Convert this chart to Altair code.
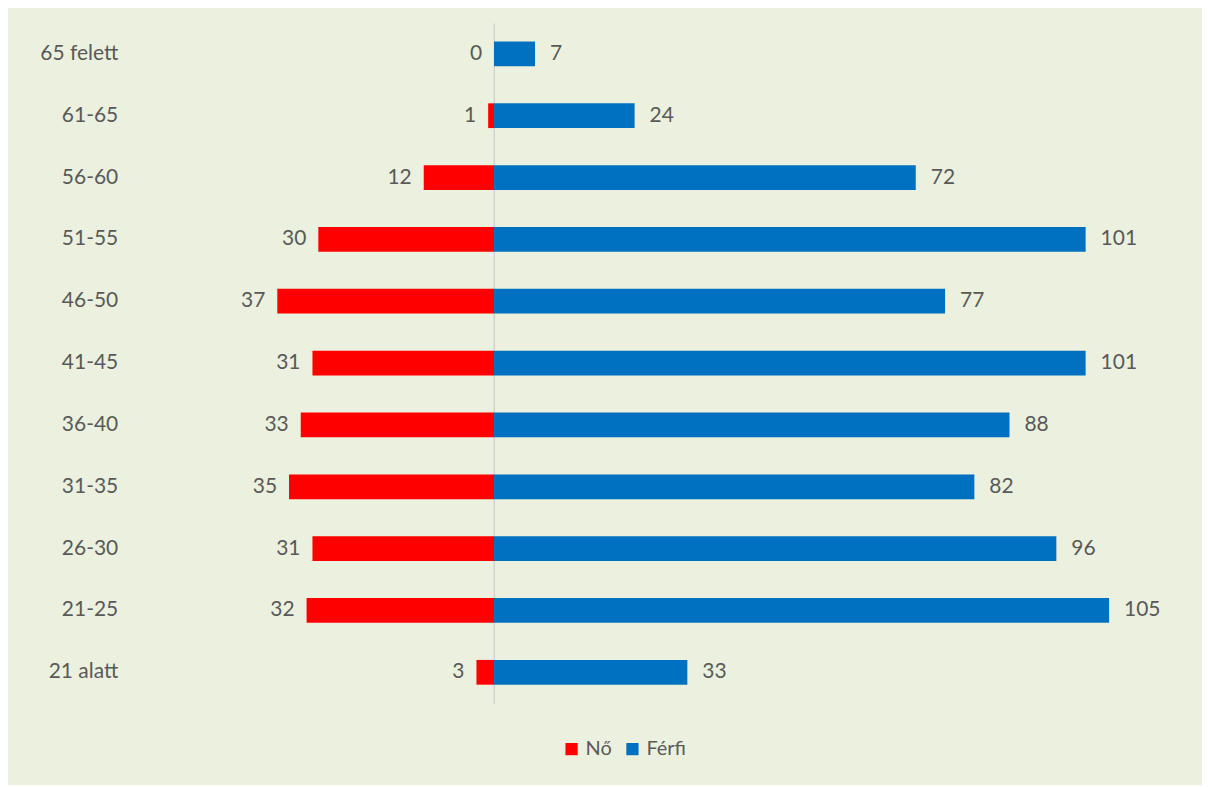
import altair as alt
import pandas as pd

categories = ["65 felett", "61-65", "56-60", "51-55", "46-50", "41-45",
              "36-40", "31-35", "26-30", "21-25", "21 alatt"]
no_values = [0, 1, 12, 30, 37, 31, 33, 35, 31, 32, 3]
ferfi_values = [7, 24, 72, 101, 77, 101, 88, 82, 96, 105, 33]
series = ["Nő", "Férfi"]
colors = ["#FF0000", "#0070C0"]

rows = []
for c, n, f in zip(categories, no_values, ferfi_values):
    rows.append({"cat": c, "nem": "Nő", "v": -n, "label": str(n), "side": -1})
    rows.append({"cat": c, "nem": "Férfi", "v": f, "label": str(f), "side": 1})
df = pd.DataFrame(rows)

FONT = "Lato"
GRAY = "#595959"
FS = 21

base = alt.Chart(df)

y_enc = alt.Y("cat:N", sort=categories, title=None,
              scale=alt.Scale(paddingInner=0.6, paddingOuter=0.3),
              axis=alt.Axis(domain=False, ticks=False, labelPadding=12,
                            labelFontSize=FS, labelColor=GRAY, labelFont=FONT))
x_enc = alt.X("v:Q", scale=alt.Scale(domain=[-62.2, 117.8], nice=False), title=None,
              axis=alt.Axis(values=[0], grid=True, gridColor="#C9CDD2", gridWidth=1.2,
                            labels=False, ticks=False, domain=False))

bars = base.mark_bar().encode(
    x=x_enc,
    y=y_enc,
    color=alt.Color("nem:N", scale=alt.Scale(domain=series, range=colors),
                    legend=alt.Legend(title=None, orient="none", direction="horizontal",
                                      legendX=433, legendY=718,
                                      symbolType="square", symbolSize=150,
                                      symbolStrokeWidth=0, columnPadding=10,
                                      labelOffset=4,
                                      labelFontSize=20, labelColor=GRAY, labelFont=FONT)),
)

labels = base.mark_text(
    baseline="middle", fontSize=FS, color=GRAY, font=FONT,
    align=alt.expr("datum.side < 0 ? 'right' : 'left'"),
    dx=alt.expr("datum.side < 0 ? -12 : 15"),
).encode(x=x_enc, y=y_enc, text="label:N")

chart = alt.layer(bars, labels).properties(
    width=1057, height=682,
    autosize=alt.AutoSizeParams(type="none"),
    padding={"left": 122, "top": 14, "right": 18, "bottom": 81},
    background="#EBF1DE",
).configure_view(strokeOpacity=0)

chart.save("out.html", embed_options={"renderer": "svg", "actions": False})
